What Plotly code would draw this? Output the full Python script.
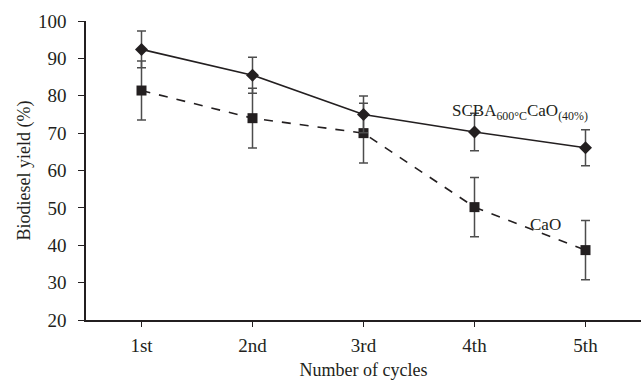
import plotly.graph_objects as go

cycles = ["1st", "2nd", "3rd", "4th", "5th"]
scba_yield = [92.4, 85.5, 75.0, 70.3, 66.1]
scba_err = [4.9, 4.8, 4.9, 5.0, 4.8]
cao_yield = [81.4, 74.0, 70.0, 50.2, 38.7]
cao_err = [7.9, 8.0, 8.0, 7.9, 7.9]
yticks = [20, 30, 40, 50, 60, 70, 80, 90, 100]

FONT = "Liberation Serif, Times New Roman, serif"
TXT = "#231f20"

fig = go.Figure()
fig.add_trace(go.Scatter(
    x=cycles, y=cao_yield, mode="lines+markers", name="CaO",
    line=dict(color=TXT, width=1.6, dash="dash"),
    marker=dict(symbol="square", size=10, color=TXT),
    error_y=dict(type="data", array=cao_err, color="#4d4d4d", thickness=1.5, width=4.5),
))
fig.add_trace(go.Scatter(
    x=cycles, y=scba_yield, mode="lines+markers", name="SCBA",
    line=dict(color=TXT, width=1.6),
    marker=dict(symbol="diamond", size=10, color=TXT),
    error_y=dict(type="data", array=scba_err, color="#4d4d4d", thickness=1.5, width=4.5),
))

fig.add_annotation(x=2.78, y=75.6, xref="x", yref="y", xanchor="left", yanchor="middle",
                   text="SCBA<sub>600°C</sub>CaO<sub>(40%)</sub>", showarrow=False,
                   font=dict(family=FONT, size=17, color=TXT))
fig.add_annotation(x=3.64, y=45.6, xref="x", yref="y", xanchor="center", yanchor="middle",
                   text="CaO", showarrow=False,
                   font=dict(family=FONT, size=17, color=TXT))

fig.update_layout(
    width=641, height=383,
    margin=dict(l=86, r=0, t=21, b=63),
    paper_bgcolor="white", plot_bgcolor="white",
    showlegend=False,
    font=dict(family=FONT, size=19, color=TXT),
)
fig.update_xaxes(
    type="category", range=[-0.5, 4.5],
    showline=True, linecolor=TXT, linewidth=1.5,
    ticks="outside", ticklen=5, tickcolor=TXT, tickwidth=1.2,
    showgrid=False, zeroline=False,
    title=dict(text="Number of cycles", standoff=9, font=dict(size=18)),
    ticklabelstandoff=2,
)
fig.update_yaxes(
    range=[20, 100], tickvals=yticks,
    showline=True, linecolor=TXT, linewidth=1.5,
    ticks="outside", ticklen=6, tickcolor=TXT, tickwidth=1.2,
    showgrid=False, zeroline=False,
    title=dict(text="Biodiesel yield (%)", standoff=3, font=dict(size=18)),
    ticklabelstandoff=8,
)

fig.write_html("out.html")
